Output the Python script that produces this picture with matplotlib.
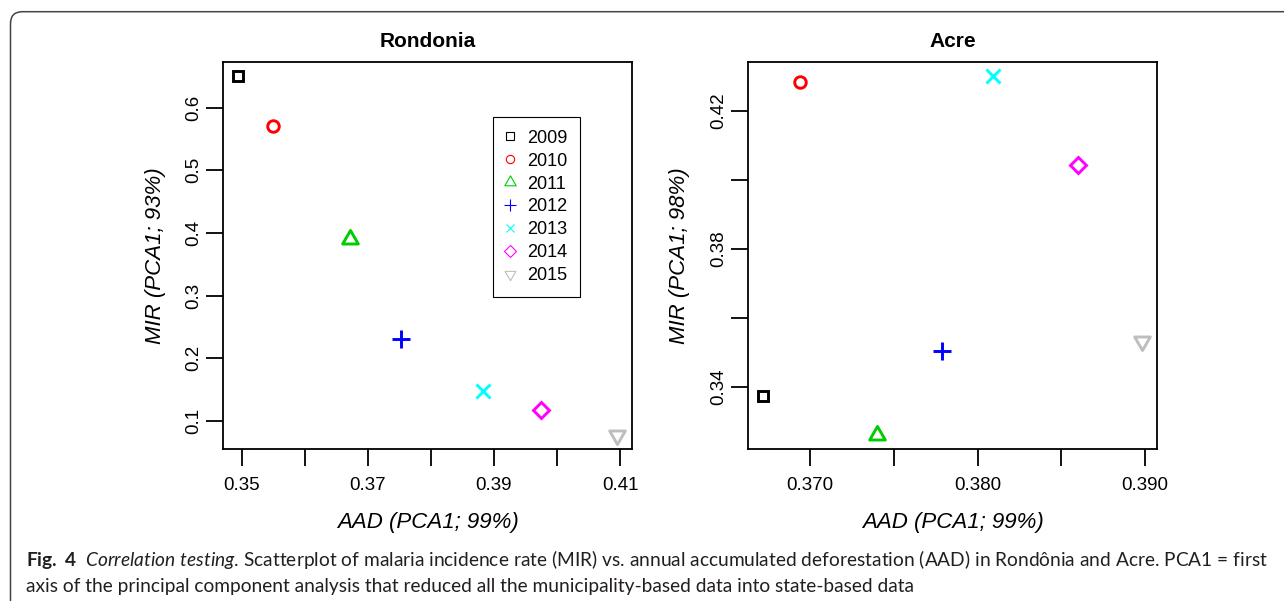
import matplotlib
matplotlib.use('Agg')
import matplotlib.pyplot as plt
from matplotlib.lines import Line2D
from matplotlib.path import Path
from matplotlib.patches import FancyBboxPatch

plt.rcParams['font.family'] = ['Liberation Sans', 'DejaVu Sans']
plt.rcParams['mathtext.fontset'] = 'custom'
plt.rcParams['mathtext.rm'] = 'Lato'
plt.rcParams['mathtext.it'] = 'Lato:italic'
plt.rcParams['mathtext.bf'] = 'Lato:bold'

years = ['2009', '2010', '2011', '2012', '2013', '2014', '2015']
colors = ['black', '#FF0000', '#00CD00', '#0000FF', '#00FFFF', '#FF00FF', '#BEBEBE']

# Rondonia
ro_aad = [0.3494, 0.3549, 0.3672, 0.3753, 0.3882, 0.3975, 0.4095]
ro_mir = [0.650, 0.571, 0.390, 0.231, 0.148, 0.117, 0.078]
ro_xticks = [0.35, 0.36, 0.37, 0.38, 0.39, 0.40, 0.41]
ro_xlabels = ['0.35', '', '0.37', '', '0.39', '', '0.41']
ro_yticks = [0.1, 0.2, 0.3, 0.4, 0.5, 0.6]
ro_ylabels = ['0.1', '0.2', '0.3', '0.4', '0.5', '0.6']

# Acre
ac_aad = [0.3672, 0.3694, 0.3740, 0.3779, 0.3809, 0.3860, 0.3898]
ac_mir = [0.3374, 0.4282, 0.3261, 0.3504, 0.4299, 0.4043, 0.3532]
ac_xticks = [0.370, 0.375, 0.380, 0.385, 0.390]
ac_xlabels = ['0.370', '', '0.380', '', '0.390']
ac_yticks = [0.34, 0.36, 0.38, 0.40, 0.42]
ac_ylabels = ['0.34', '', '0.38', '', '0.42']

caption1 = (r'$\mathbf{Fig.\ 4}$  $\mathit{Correlation\ testing}$. Scatterplot of malaria incidence rate (MIR) '
            'vs. annual accumulated deforestation (AAD) in Rondônia and Acre. PCA1 = first')
caption2 = 'axis of the principal component analysis that reduced all the municipality-based data into state-based data'

# R-like triangles (centroid on the point)
tri_up = Path([(0, 1), (-0.866, -0.5), (0.866, -0.5), (0, 1)], closed=True)
tri_down = Path([(0, -1), (-0.866, 0.5), (0.866, 0.5), (0, -1)], closed=True)
markers = ['s', 'o', tri_up, '+', 'x', 'D', tri_down]
msizes = [7.2, 8.3, 13, 13, 10, 8.1, 13]
leg_sizes = [5.5, 6, 9.5, 8.5, 5.5, 6.6, 9]


def r_lim(vals):
    span = max(vals) - min(vals)
    return min(vals) - 0.04 * span, max(vals) + 0.04 * span


def panel(ax, aad, mir, title, ylabel, xticks, xlabels, yticks, ylabels, ylab_x):
    for i in range(len(years)):
        ax.plot(aad[i], mir[i], linestyle='none', marker=markers[i], ms=msizes[i],
                mfc='none', mec=colors[i], mew=2.1)
    ax.set_xlim(*r_lim(aad))
    ax.set_ylim(*r_lim(mir))
    ax.set_xticks(xticks)
    ax.set_xticklabels(xlabels)
    ax.set_yticks(yticks)
    ax.set_yticklabels(ylabels, rotation=90, va='center')
    ax.tick_params(direction='out', length=12, width=1.3, labelsize=13.5)
    ax.tick_params(axis='x', pad=8)
    ax.tick_params(axis='y', pad=3)
    for s in ax.spines.values():
        s.set_linewidth(1.3)
    ax.set_title(title, fontweight='bold', fontsize=15, pad=11)
    ax.set_xlabel('AAD (PCA1; 99%)', style='italic', fontsize=16, va='center')
    ax.xaxis.set_label_coords(0.5, -0.19)
    ax.set_ylabel(ylabel, style='italic', fontsize=16, va='center', ha='center')
    ax.yaxis.set_label_coords(ylab_x, 0.5)


fig = plt.figure(figsize=(12.84, 6.01), dpi=100)

ax1 = fig.add_axes([223 / 1284, 1 - 449 / 601, 409 / 1284, 387 / 601])
panel(ax1, ro_aad, ro_mir, 'Rondonia', 'MIR (PCA1; 93%)',
      ro_xticks, ro_xlabels, ro_yticks, ro_ylabels, -0.1645)

ax2 = fig.add_axes([748 / 1284, 1 - 449 / 601, 409 / 1284, 387 / 601])
panel(ax2, ac_aad, ac_mir, 'Acre', 'MIR (PCA1; 98%)',
      ac_xticks, ac_xlabels, ac_yticks, ac_ylabels, -0.1687)

# legend with thin, smaller markers like R's legend()
handles = [Line2D([], [], linestyle='none', marker=markers[i], ms=leg_sizes[i],
                  mfc='none', mec=colors[i], mew=0.8) for i in range(len(years))]
leg = ax1.legend(handles, years, loc='upper left', bbox_to_anchor=(0.660, 0.858),
                 borderaxespad=0, fancybox=False, edgecolor='black', framealpha=1,
                 fontsize=13, handlelength=0.45, handletextpad=0.73, borderpad=0.7,
                 labelspacing=0.33)
leg.get_frame().set_linewidth(0.8)

# outer rounded frame of the figure panel
frame = FancyBboxPatch((0.105, -0.3), 13.5, 5.893 + 0.3,
                       boxstyle='round,pad=0,rounding_size=0.12',
                       transform=fig.dpi_scale_trans, fill=False,
                       ec='#444444', lw=1.1, clip_on=False)
fig.add_artist(frame)

fig.text(26 / 1284, 1 - 566 / 601, caption1, fontsize=13.8, family='Lato',
         color='#231f20', va='baseline')
fig.text(26 / 1284, 1 - 591.7 / 601, caption2, fontsize=13.8, family='Lato',
         color='#231f20', va='baseline')

fig.savefig('out.png', dpi=100)
